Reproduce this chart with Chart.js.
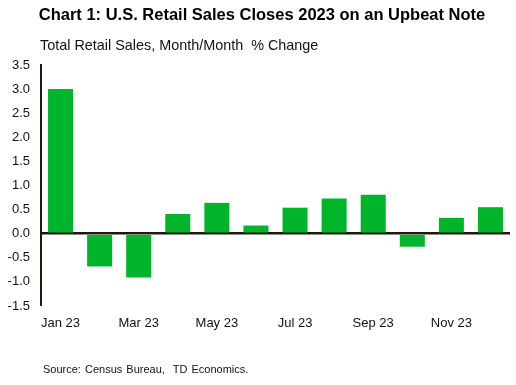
<!DOCTYPE html>
<html>
<head>
<meta charset="utf-8">
<script src="https://cdn.jsdelivr.net/npm/chart.js@4/dist/chart.umd.min.js"></script>
<style>
  html, body { margin: 0; padding: 0; background: #fff; }
  #wrap { position: relative; width: 516px; height: 385px; font-family: "Liberation Sans", Arial, sans-serif; }
  #c { position: absolute; left: 0; top: 0; }
  .t { position: absolute; white-space: pre; color: #000; }
  #title { left: 0; width: 516px; text-align: center; top: 5px; font-weight: bold; font-size: 16.5px; padding-left: 4px; }
  #sub { left: 40px; top: 37px; font-size: 14.4px; color: #111; }
  #src { left: 43px; top: 363px; font-size: 11px; color: #111; word-spacing: 1px; }
</style>
</head>
<body>
<div id="wrap">
  <canvas id="c" width="516" height="385"></canvas>
  <div class="t" id="title">Chart 1: U.S. Retail Sales Closes 2023 on an Upbeat Note</div>
  <div class="t" id="sub">Total Retail Sales, Month/Month  % Change</div>
  <div class="t" id="src">Source: Census Bureau,  TD Economics.</div>
</div>
<script>
const categories = ["Jan 23","Feb 23","Mar 23","Apr 23","May 23","Jun 23","Jul 23","Aug 23","Sep 23","Oct 23","Nov 23","Dec 23"];
const retailSales = [3.0, -0.68, -0.91, 0.41, 0.64, 0.17, 0.54, 0.73, 0.81, -0.27, 0.33, 0.55];
const yTicks = [-1.5, -1.0, -0.5, 0.0, 0.5, 1.0, 1.5, 2.0, 2.5, 3.0, 3.5];

const axisColor = "#1c1c0c";
new Chart(document.getElementById("c"), {
  type: "bar",
  data: {
    labels: categories,
    datasets: [{
      data: retailSales,
      backgroundColor: "#00b52a",
      borderWidth: 0,
      categoryPercentage: 1.0,
      barPercentage: 0.64
    }]
  },
  options: {
    responsive: false,
    animation: false,
    events: [],
    layout: { padding: { top: 65, right: 6, bottom: 49, left: 0 } },
    plugins: { legend: { display: false }, tooltip: { enabled: false }, title: { display: false } },
    scales: {
      x: {
        grid: { display: false, drawTicks: false },
        border: { display: false },
        ticks: {
          autoSkip: false, maxRotation: 0, minRotation: 0, padding: 10,
          color: "#111",
          font: { family: "'Liberation Sans', Arial, sans-serif", size: 13 },
          callback: function(v, i) { return i % 2 === 0 ? categories[i] : ""; }
        },
        afterFit: function(s) { s.height = 30; }
      },
      y: {
        min: yTicks[0], max: yTicks[yTicks.length - 1],
        afterBuildTicks: function(s) { s.ticks = yTicks.map(v => ({ value: v })); },
        grid: {
          drawTicks: false,
          color: ctx => (ctx.tick && ctx.tick.value === 0) ? axisColor : "rgba(0,0,0,0)",
          lineWidth: ctx => (ctx.tick && ctx.tick.value === 0) ? 2.5 : 0
        },
        border: { display: true, color: axisColor, width: 2 },
        ticks: {
          padding: 11,
          color: "#111",
          font: { family: "'Liberation Sans', Arial, sans-serif", size: 13 },
          callback: v => Number(v).toFixed(1)
        },
        afterFit: function(s) { s.width = 41; }
      }
    }
  }
});
</script>
</body>
</html>
